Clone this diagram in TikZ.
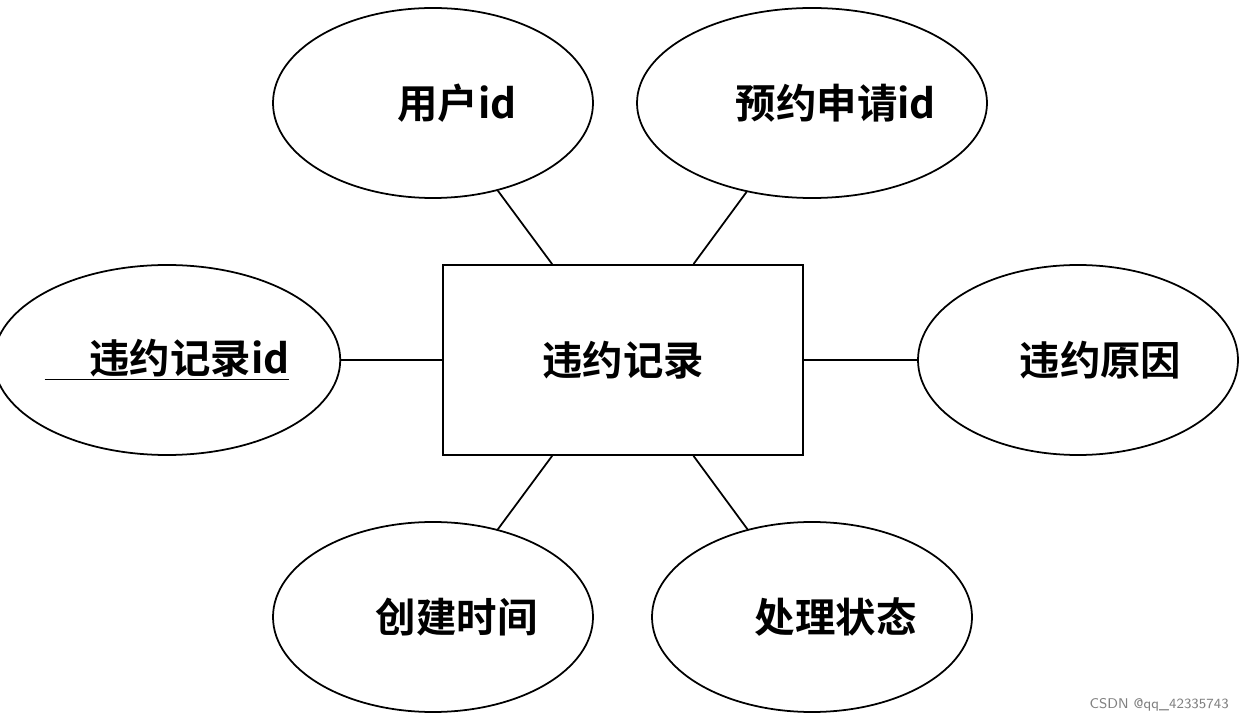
\documentclass[tikz,border=0pt]{standalone}
\usepackage{fontspec}
\newfontfamily\cjk{Noto Sans CJK SC}[BoldFont={Noto Sans CJK SC Bold}]
\usetikzlibrary{shapes.geometric}
\begin{document}
\begin{tikzpicture}
            \tikzset{attr/.style={draw, line width=1pt, ellipse, minimum width=6.4cm, minimum height=3.8cm, inner sep=0pt, font=\cjk\bfseries\fontsize{23}{27}\selectfont},
                entity/.style={draw, line width=1pt, rectangle, minimum width=7.2cm, minimum height=3.8cm, font=\cjk\bfseries\fontsize{23}{27}\selectfont},
                link/.style={line width=1pt}}
            \useasboundingbox (0, 0) rectangle (24.88, 14.4);
            \node[entity] (rec) at (12.46, 7.2) {违约记录};
            \node[attr] (uid) at (8.66, 12.34) {\hspace{0.95cm}用户id};
            \node[attr] (aid) at (16.24, 12.34) {\hspace{0.95cm}预约申请id};
            \node[attr] (vid) at (3.34, 7.2) {\underline{\hspace{0.9cm}违约记录id}};
            \node[attr] (why) at (21.56, 7.2) {\hspace{0.9cm}违约原因};
            \node[attr] (ctime) at (8.66, 2.06) {\hspace{0.95cm}创建时间};
            \node[attr] (state) at (16.24, 2.06) {\hspace{0.95cm}处理状态};
            \draw[link] (uid) -- (rec);
            \draw[link] (aid) -- (rec);
            \draw[link] (vid) -- (rec);
            \draw[link] (why) -- (rec);
            \draw[link] (ctime) -- (rec);
            \draw[link] (state) -- (rec);
            \node[text=gray, font=\sffamily\fontsize{8}{9}\selectfont, anchor=east] (mark) at (24.7, 0.3) {CSDN @qq\_42335743};
        \end{tikzpicture}
\end{document}
